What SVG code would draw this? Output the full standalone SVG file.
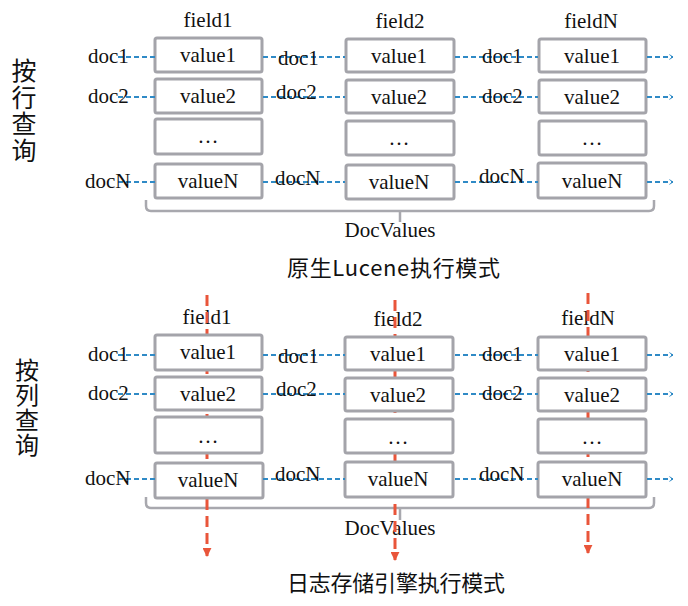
<svg xmlns="http://www.w3.org/2000/svg" width="688" height="606" viewBox="0 0 688 606">
<style>
.bg{fill:#ffffff}
.box rect{fill:#ffffff;stroke:#a4a4aa;stroke-width:3}
.t{font-family:"Liberation Serif","Times New Roman",serif;font-size:21px;fill:#111111}
.c{text-anchor:middle}
.cjk{font-family:"Noto Sans CJK SC","Microsoft YaHei",sans-serif;fill:#111111}
.vert{writing-mode:vertical-rl;text-orientation:upright}
.blue{stroke:#2f8ac6;stroke-width:1.8;stroke-dasharray:5 3;fill:none}
.red{stroke:#e9553a;stroke-width:3;stroke-dasharray:11 6;fill:none}
.brace{stroke:#a8a8ae;stroke-width:2.5;fill:none}
</style>
<defs>
<marker id="ab" viewBox="0 0 10 10" refX="8" refY="5" markerWidth="6" markerHeight="6" orient="auto" markerUnits="userSpaceOnUse">
<path d="M2,1 L8,5 L2,9" fill="none" stroke="#2f8ac6" stroke-width="1.6"/>
</marker>
<marker id="ar" viewBox="0 0 10 10" refX="9" refY="5" markerWidth="9" markerHeight="9" orient="auto" markerUnits="userSpaceOnUse">
<path d="M0,0 L10,5 L0,10 Z" fill="#e9553a"/>
</marker>
</defs>
<rect class="bg" x="0" y="0" width="688" height="606"/>

<!-- Section 1 labels -->
<g id="label-row-query">
<text class="cjk vert" font-size="25" letter-spacing="1.5" x="24" y="58">按行查询</text>
</g>
<g id="top-fields">
<text class="t c" x="208" y="27">field1</text>
<text class="t c" x="400" y="28">field2</text>
<text class="t c" x="591" y="28">fieldN</text>
</g>
<g id="top-brace">
<path class="brace" d="M146,200 L146,206 Q146,211 151,211 L649,211 Q654,211 654,206 L654,200 M400,211 L400,222"/>
</g>
<g id="top-docvalues"><text class="t c" x="390" y="237" font-size="22">DocValues</text></g>
<g id="title-top"><text class="cjk" font-size="22" x="287" y="276" textLength="213" lengthAdjust="spacing">原生Lucene执行模式</text></g>

<!-- Section 2 labels -->
<g id="label-col-query">
<text class="cjk vert" font-size="24" letter-spacing="1" x="27" y="358">按列查询</text>
</g>
<g id="bottom-fields">
<text class="t c" x="207" y="324">field1</text>
<text class="t c" x="398" y="326">field2</text>
<text class="t c" x="588" y="325">fieldN</text>
</g>
<g id="bottom-brace">
<path class="brace" d="M146,497 L146,503 Q146,508 151,508 L649,508 Q654,508 654,503 L654,497 M400,508 L400,520"/>
</g>
<g id="bottom-docvalues"><text class="t c" x="390" y="535" font-size="22">DocValues</text></g>
<g id="title-bottom"><text class="cjk" font-size="22" x="287" y="591" textLength="218" lengthAdjust="spacing">日志存储引擎执行模式</text></g>

<!-- connectors -->
<g id="connectors">
<line class="red" x1="207" y1="295" x2="207" y2="556" marker-end="url(#ar)"/>
<line class="red" x1="395" y1="300" x2="395" y2="560" marker-end="url(#ar)"/>
<line class="red" x1="588" y1="293" x2="588" y2="553" marker-end="url(#ar)"/>
</g>

<!-- top boxes -->
<g id="t-f1" class="box">
<rect x="155" y="38" width="107" height="34" rx="2"/><rect x="155" y="79" width="107" height="34" rx="2"/><rect x="155" y="119" width="107" height="35" rx="2"/><rect x="155" y="164" width="107" height="34" rx="2"/>
<text class="t c" x="208" y="62">value1</text><text class="t c" x="208" y="103">value2</text><text class="t c" x="208" y="143">…</text><text class="t c" x="208" y="188">valueN</text>
</g>
<g id="t-f2" class="box">
<rect x="346" y="39" width="108" height="33" rx="2"/><rect x="346" y="80" width="108" height="33" rx="2"/><rect x="346" y="121" width="108" height="34" rx="2"/><rect x="346" y="165" width="108" height="34" rx="2"/>
<text class="t c" x="399" y="63">value1</text><text class="t c" x="399" y="104">value2</text><text class="t c" x="399" y="145">…</text><text class="t c" x="399" y="189">valueN</text>
</g>
<g id="t-fN" class="box">
<rect x="539" y="39" width="107" height="33" rx="2"/><rect x="539" y="80" width="107" height="33" rx="2"/><rect x="539" y="121" width="107" height="34" rx="2"/><rect x="538" y="163" width="108" height="35" rx="2"/>
<text class="t c" x="592" y="63">value1</text><text class="t c" x="592" y="104">value2</text><text class="t c" x="592" y="145">…</text><text class="t c" x="592" y="188">valueN</text>
</g>

<!-- bottom boxes -->
<g id="b-f1" class="box">
<rect x="155" y="335" width="107" height="35" rx="2"/><rect x="155" y="377" width="107" height="33" rx="2"/><rect x="155" y="417" width="107" height="36" rx="2"/><rect x="155" y="463" width="108" height="35" rx="2"/>
<text class="t c" x="208" y="359">value1</text><text class="t c" x="208" y="401">value2</text><text class="t c" x="208" y="443">…</text><text class="t c" x="208" y="487">valueN</text>
</g>
<g id="b-f2" class="box">
<rect x="345" y="337" width="108" height="33" rx="2"/><rect x="345" y="378" width="108" height="33" rx="2"/><rect x="345" y="419" width="108" height="34" rx="2"/><rect x="345" y="462" width="108" height="35" rx="2"/>
<text class="t c" x="398" y="361">value1</text><text class="t c" x="398" y="402">value2</text><text class="t c" x="398" y="444">…</text><text class="t c" x="398" y="486">valueN</text>
</g>
<g id="b-fN" class="box">
<rect x="538" y="337" width="108" height="33" rx="2"/><rect x="538" y="378" width="108" height="33" rx="2"/><rect x="538" y="419" width="108" height="34" rx="2"/><rect x="538" y="462" width="108" height="35" rx="2"/>
<text class="t c" x="592" y="361">value1</text><text class="t c" x="592" y="402">value2</text><text class="t c" x="592" y="444">…</text><text class="t c" x="592" y="486">valueN</text>
</g>

<!-- blue doc connectors -->
<g id="doc-connectors">
<path class="blue" d="M118,57 H155 M263,57 H345 M455,57 H538"/><line class="blue" x1="647" y1="57" x2="673" y2="57" marker-end="url(#ab)"/>
<path class="blue" d="M118,97 H155 M263,97 H345 M455,97 H538"/><line class="blue" x1="647" y1="97" x2="673" y2="97" marker-end="url(#ab)"/>
<path class="blue" d="M118,182 H155 M263,182 H345 M455,182 H538"/><line class="blue" x1="647" y1="182" x2="673" y2="182" marker-end="url(#ab)"/>
<path class="blue" d="M118,355 H155 M263,355 H345 M455,355 H538"/><line class="blue" x1="647" y1="355" x2="673" y2="355" marker-end="url(#ab)"/>
<path class="blue" d="M118,394 H155 M263,394 H345 M455,394 H538"/><line class="blue" x1="647" y1="394" x2="673" y2="394" marker-end="url(#ab)"/>
<path class="blue" d="M118,479 H155 M263,479 H345 M455,479 H538"/><line class="blue" x1="647" y1="479" x2="673" y2="479" marker-end="url(#ab)"/>
</g>

<!-- doc labels -->
<g id="doc-labels-top">
<text class="t" x="88" y="63">doc1</text><text class="t" x="88" y="103">doc2</text><text class="t" x="85" y="188">docN</text>
<text class="t" x="278" y="65">doc1</text><text class="t" x="276" y="99">doc2</text><text class="t" x="275" y="185">docN</text>
<text class="t" x="482" y="63">doc1</text><text class="t" x="482" y="103">doc2</text><text class="t" x="479" y="183">docN</text>
</g>
<g id="doc-labels-bottom">
<text class="t" x="88" y="361">doc1</text><text class="t" x="88" y="400">doc2</text><text class="t" x="85" y="485">docN</text>
<text class="t" x="278" y="363">doc1</text><text class="t" x="276" y="396">doc2</text><text class="t" x="275" y="481">docN</text>
<text class="t" x="482" y="361">doc1</text><text class="t" x="482" y="400">doc2</text><text class="t" x="479" y="481">docN</text>
</g>
</svg>
